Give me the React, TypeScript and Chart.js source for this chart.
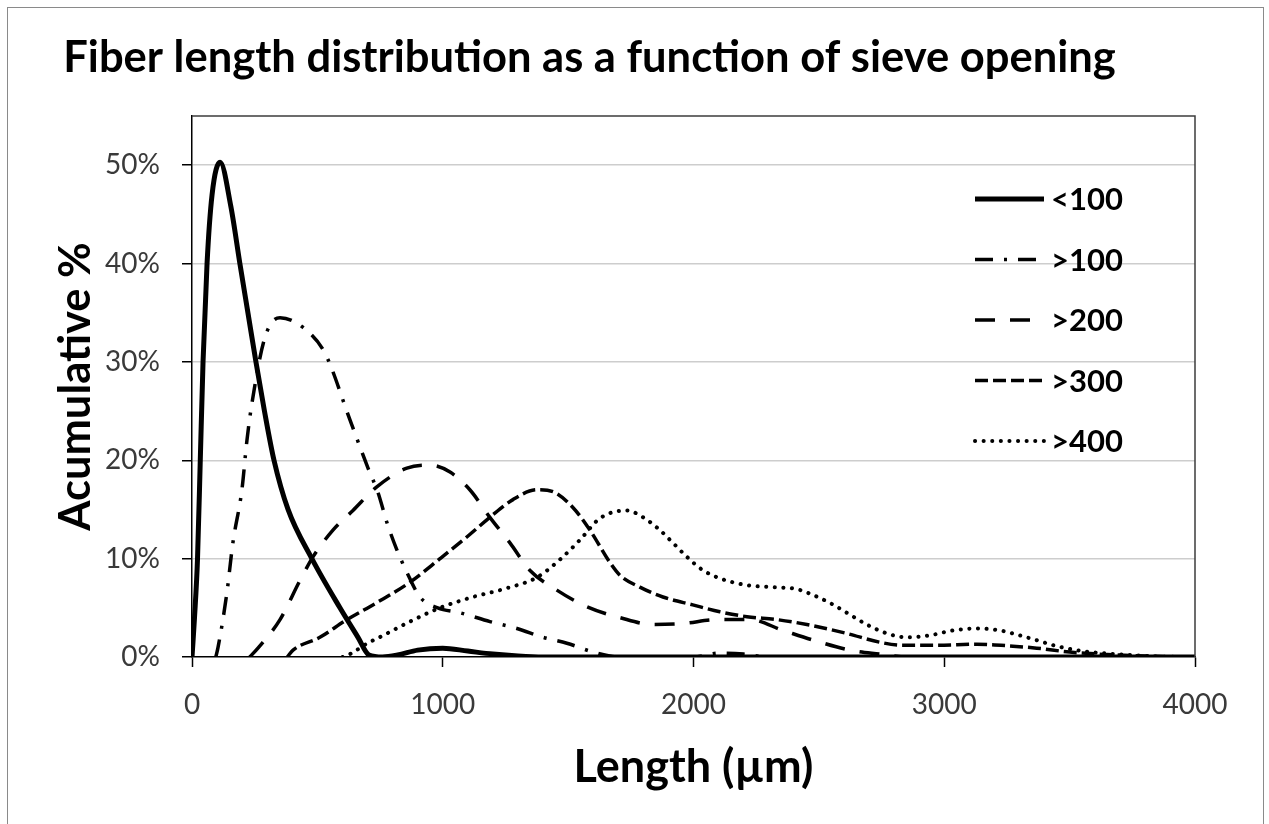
import React, { useEffect, useRef } from 'react';
import { Chart, registerables } from 'chart.js';

Chart.register(...registerables);

// ---- data (length in µm, value in %) ----
const seriesLabels = ['<100', '>100', '>200', '>300', '>400'];

const lenLt100 = [0, 10, 22, 33, 44, 60, 80, 112, 155, 191, 223, 255, 289, 327, 383, 478, 590, 662, 706, 760, 820, 900, 1000, 1100, 1200, 1300, 1400, 2500, 4000];
const pctLt100 = [0, 4, 10, 20, 30, 40, 47, 50.3, 45.8, 40, 35, 30, 25, 20, 15, 10, 5, 2, 0.2, 0, 0.2, 0.7, 0.9, 0.6, 0.3, 0.1, 0, 0, 0];

const lenGt100 = [95, 104, 139, 163, 199, 219, 239, 291, 351, 443, 530, 630, 702, 742, 777, 817, 857, 909, 980, 1069, 1188, 1296, 1400, 1495, 1600, 1700, 2000, 2100, 2200, 2300, 2500, 4000];
const pctGt100 = [0, 1, 6.5, 11.6, 17, 22, 25.8, 32.5, 34.5, 33.5, 30.9, 24.1, 19.2, 16.7, 13.7, 10.9, 8.6, 6.1, 5.0, 4.5, 3.6, 2.9, 2.0, 1.4, 0.5, 0, 0, 0.4, 0.3, 0, 0, 0];

const lenGt200 = [230, 263, 351, 431, 483, 562, 642, 737, 857, 950, 1029, 1108, 1188, 1268, 1348, 1455, 1575, 1707, 1838, 1958, 2093, 2225, 2357, 2492, 2624, 2743, 2850, 3000, 4000];
const pctGt200 = [0, 0.9, 3.8, 7.8, 10.2, 12.9, 14.9, 17.3, 19.2, 19.5, 18.8, 17, 14.2, 11.6, 8.8, 6.8, 5.1, 4.0, 3.3, 3.4, 3.8, 3.8, 2.7, 1.6, 0.7, 0.3, 0, 0, 0];

const lenGt300 = [380, 403, 510, 618, 735, 869, 989, 1096, 1188, 1280, 1376, 1440, 1519, 1587, 1667, 1707, 1786, 1878, 1997, 2105, 2213, 2333, 2452, 2611, 2743, 2835, 2970, 3130, 3274, 3369, 3500, 3650, 3800, 3950, 4000];
const pctGt300 = [0, 0.7, 2, 3.8, 5.5, 7.6, 10, 12.2, 14.2, 16, 17, 16.8, 15.2, 12.9, 9.6, 8.3, 7.1, 6.1, 5.3, 4.6, 4.1, 3.8, 3.3, 2.4, 1.5, 1.2, 1.2, 1.3, 1.1, 0.9, 0.5, 0.25, 0.1, 0, 0];

const lenGt400 = [600, 630, 700, 763, 869, 989, 1120, 1256, 1376, 1467, 1547, 1627, 1734, 1799, 1866, 1918, 1973, 2033, 2105, 2213, 2317, 2412, 2477, 2544, 2624, 2691, 2771, 2851, 2943, 3035, 3130, 3222, 3301, 3369, 3450, 3550, 3650, 3750, 3850, 4000];
const pctGt400 = [0, 0.3, 1.4, 2.2, 3.6, 5.0, 6.1, 7.0, 8.1, 9.9, 11.9, 14.1, 14.9, 14.2, 12.9, 11.6, 10.2, 8.9, 8.0, 7.3, 7.1, 6.9, 6.3, 5.5, 4.3, 3.3, 2.4, 2.0, 2.2, 2.7, 2.9, 2.7, 2.2, 1.7, 1.1, 0.6, 0.35, 0.2, 0.05, 0];

const xTickStep = 1000;
const yTickStep = 10;
const yLabelMax = 50;

const FONT = 'Lato, "Open Sans", sans-serif';

const toPoints = (xs: number[], ys: number[]) => xs.map((x, i) => ({ x, y: ys[i] }));

const frameBox = {
  id: 'frameBox',
  afterDatasetsDraw(chart: any) {
    const { ctx, chartArea } = chart;
    ctx.save();
    ctx.strokeStyle = '#3c3c3c';
    ctx.lineWidth = 1.5;
    ctx.beginPath();
    ctx.moveTo(chartArea.left, chartArea.top);
    ctx.lineTo(chartArea.right, chartArea.top);
    ctx.lineTo(chartArea.right, chartArea.bottom);
    ctx.stroke();
    ctx.restore();
  },
};

const insideLegend = {
  id: 'insideLegend',
  afterDraw(chart: any) {
    const { ctx, chartArea } = chart;
    const x0 = chartArea.right - 220;
    const x1 = chartArea.right - 151;
    const tx = chartArea.right - 144;
    ctx.save();
    chart.data.datasets.forEach((ds: any, i: number) => {
      const y = chartArea.top + 83 + i * 60.5;
      ctx.strokeStyle = ds.borderColor;
      ctx.lineWidth = ds.borderWidth;
      ctx.lineCap = ds.borderCapStyle || 'butt';
      ctx.setLineDash(ds.borderDash || []);
      ctx.beginPath();
      ctx.moveTo(x0, y);
      ctx.lineTo(x1, y);
      ctx.stroke();
      ctx.setLineDash([]);
      ctx.fillStyle = '#000';
      ctx.font = `bold 31px ${FONT}`;
      ctx.textBaseline = 'middle';
      ctx.textAlign = 'left';
      ctx.fillText(ds.label, tx, y + 1);
    });
    ctx.restore();
  },
};

export default function App() {
  const ref = useRef<HTMLCanvasElement | null>(null);

  useEffect(() => {
    if (!ref.current) return;
    const common = { borderColor: '#000', pointRadius: 0, cubicInterpolationMode: 'monotone', fill: false };
    const chart = new Chart(ref.current, {
      type: 'line',
      data: {
        datasets: [
          { ...common, label: seriesLabels[0], data: toPoints(lenLt100, pctLt100), borderWidth: 5 },
          { ...common, label: seriesLabels[1], data: toPoints(lenGt100, pctGt100), borderWidth: 3.5, borderDash: [18, 11, 3, 11] },
          { ...common, label: seriesLabels[2], data: toPoints(lenGt200, pctGt200), borderWidth: 3.5, borderDash: [20, 15] },
          { ...common, label: seriesLabels[3], data: toPoints(lenGt300, pctGt300), borderWidth: 3.5, borderDash: [13, 5] },
          { ...common, label: seriesLabels[4], data: toPoints(lenGt400, pctGt400), borderWidth: 4, borderDash: [0.1, 8.5], borderCapStyle: 'round' },
        ] as any,
      },
      options: {
        animation: false,
        responsive: false,
        maintainAspectRatio: false,
        layout: { padding: { left: -24, right: 68, top: 0, bottom: 0 } },
        plugins: {
          legend: { display: false },
          tooltip: { enabled: false },
          title: {
            display: true,
            text: 'Fiber length distribution as a function of sieve opening',
            color: '#000',
            font: { family: FONT, size: 43.5, weight: 'bold', lineHeight: 1.2 },
            padding: { top: 23.9, bottom: 31.9 },
          },
        },
        scales: {
          x: {
            type: 'linear',
            min: 0,
            max: 4000,
            ticks: {
              stepSize: xTickStep,
              color: '#3a3a3a',
              font: { family: FONT, size: 28 },
              padding: 21,
              callback: (v: any) => String(v),
            },
            grid: { drawOnChartArea: false, drawTicks: true, tickLength: 10, tickColor: '#000', tickWidth: 1.5 },
            border: { display: true, color: '#000', width: 1.5 },
            title: {
              display: true,
              text: 'Length (µm)',
              color: '#000',
              font: { family: FONT, size: 45, weight: 'bold', lineHeight: 1.2 },
              padding: { top: 0, bottom: 30 },
            },
            afterFit: (s: any) => { s.height = 167; },
          },
          y: {
            type: 'linear',
            min: 0,
            max: 55,
            ticks: {
              stepSize: yTickStep,
              color: '#3a3a3a',
              font: { family: FONT, size: 28 },
              padding: 22,
              callback: (v: any) => `${v}%`,
            },
            afterBuildTicks: (s: any) => { s.ticks = s.ticks.filter((t: any) => t.value <= yLabelMax + 1e-9); },
            grid: {
              color: (c: any) => (c.tick && c.tick.value === 0 ? 'rgba(0,0,0,0)' : '#cdcdcd'),
              lineWidth: 1.5,
              drawTicks: true,
              tickLength: 10,
              tickColor: '#000',
              tickWidth: 1.5,
            },
            border: { display: true, color: '#000', width: 1.5 },
            title: {
              display: true,
              text: 'Acumulative %',
              color: '#000',
              font: { family: FONT, size: 43.5, weight: 'bold', lineHeight: 1.2 },
              padding: { top: 65.9, bottom: 0 },
            },
            afterFit: (s: any) => { s.width = 208; },
          },
        },
      },
      plugins: [frameBox, insideLegend],
    } as any);
    return () => chart.destroy();
  }, []);

  return (
    <div
      style={{
        position: 'fixed',
        left: 7,
        top: 7,
        width: 1255,
        height: 830,
        border: '1px solid #8a8a8a',
        background: '#fff',
      }}
    >
      <canvas ref={ref} width={1255} height={816} style={{ display: 'block', width: 1255, height: 816 }} />
    </div>
  );
}
